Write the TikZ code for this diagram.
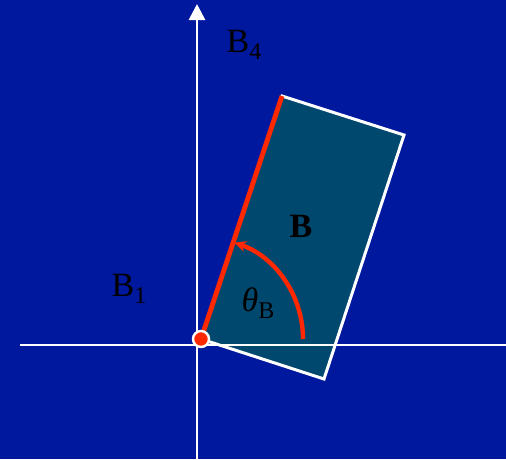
\documentclass[tikz,border=0pt]{standalone}
\usepackage{fontspec}
\setmainfont{Liberation Serif}
\usepackage{xcolor}
\usetikzlibrary{positioning,arrows.meta,calc}

\definecolor{bgblue}{RGB}{0,24,158}
\definecolor{boxteal}{RGB}{0,72,110}
\definecolor{edgered}{RGB}{255,40,0}

\newcommand{\lowsub}[1]{\raisebox{-7pt}{\fontsize{24}{28}\selectfont #1}}

\begin{document}
\begin{tikzpicture}[
  x=1pt, y=-1pt,
  font=\fontsize{34}{40}\selectfont,
  axis/.style={
    draw=white,
    line width=2.8pt
  },
  plate/.style={
    fill=boxteal,
    draw=white,
    line width=3pt,
    line join=miter
  },
  redline/.style={
    draw=edgered,
    line width=4.8pt
  },
  anglearrow/.style={
    -{Stealth[length=12pt,width=11pt]},
    draw=edgered,
    line width=4.4pt
  },
  label/.style={
    text=black,
    inner sep=0pt
  }
]

\fill[bgblue] (0,0) rectangle (506,459);
\useasboundingbox (0,0) rectangle (506,459);

% plate corners
\coordinate (o) at (201,339);
\coordinate (top) at (282,96);
\coordinate (right) at (404,135);
\coordinate (low) at (324,379);

\path[plate] (o) -- (top) -- (right) -- (low) -- cycle;

% axes
\coordinate (xl) at (20,345);
\coordinate (xr) at (506,345);
\coordinate (yb) at (197,459);
\coordinate (yt) at (197,4);
\draw[axis] (xl) -- (xr);
\draw[axis, -{Triangle[length=16pt,width=16pt]}] (yb) -- (yt);

\draw[redline] (o) -- (top);
\draw[anglearrow] ($(o)+(102,0)$) arc[start angle=0, end angle=-71, radius=102];

\node[circle, fill=edgered, draw=white, line width=2.4pt, minimum size=16pt, inner sep=0pt] (dot) at (o) {};

\node[label] (b4) at (244,45) {B\lowsub{4}};
\node[label] (b1) at (129,289) {B\lowsub{1}};
\node[label, font=\fontsize{34}{40}\selectfont\bfseries] (bname) at (301,226) {B};
\node[label] (theta) at (258,303) {{\itshape θ}\lowsub{B}};

\end{tikzpicture}
\end{document}
